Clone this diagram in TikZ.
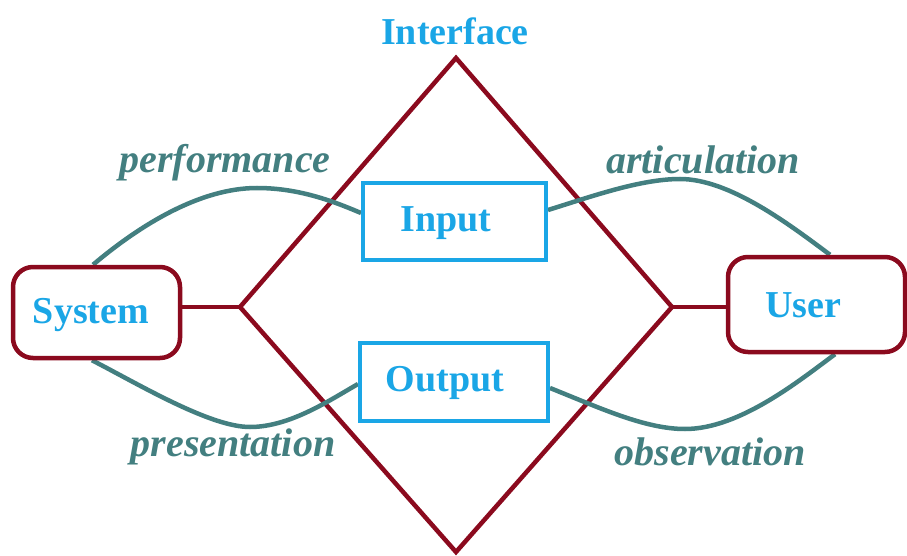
\documentclass[tikz,border=0pt]{standalone}
\usepackage{fontspec}
\setmainfont{Liberation Serif}[BoldFont={Liberation Serif Bold},ItalicFont={Liberation Serif Italic},BoldItalicFont={Liberation Serif Bold Italic}]
\definecolor{maroon}{HTML}{8B0A1E}
\definecolor{skyb}{HTML}{1AA6E6}
\definecolor{tealc}{HTML}{437F80}
\begin{document}
\begin{tikzpicture}[x=1pt,y=-1pt,
  endbox/.style={draw=maroon,line width=4.5pt,rounded corners=20pt,fill=white,inner sep=0pt},
  iobox/.style={draw=skyb,line width=4pt,fill=white,inner sep=0pt},
  boxtext/.style={text=skyb,inner sep=0pt,font=\fontsize{38}{40}\selectfont\bfseries},
  redline/.style={draw=maroon,line width=4.5pt},
  link/.style={draw=tealc,line width=4.5pt},
  lbl/.style={text=tealc,font=\fontsize{40}{42}\selectfont\bfseries\itshape}]
\useasboundingbox (0,0) rectangle (907,556);
\coordinate (dT) at (456,58);
\coordinate (dL) at (240,307);
\coordinate (dR) at (672,307);
\coordinate (dB) at (456,552);
% diamond and links to the end boxes
\draw[redline,line join=miter] (dT) -- (dR) -- (dB) -- (dL) -- cycle;
\draw[redline] (dL) -- (96.5,307);
\draw[redline] (dR) -- (816.5,307);
% box outlines (named) for anchors
\path node[iobox,draw=none,fill=none,minimum width=183pt,minimum height=76pt] (inpb) at (454.5,221.5) {}
      node[iobox,draw=none,fill=none,minimum width=188pt,minimum height=78pt] (outpb) at (454,382) {}
      node[endbox,draw=none,fill=none,minimum width=167pt,minimum height=91pt] (sysb) at (96.5,312.5) {}
      node[endbox,draw=none,fill=none,minimum width=177pt,minimum height=95pt] (usrb) at (816.5,304.5) {};
% curves
\draw[link] ([xshift=-3.5pt]sysb.north) .. controls (140,225) and (200,188) .. (257,188)
  .. controls (300,188) and (335,202) .. ([yshift=8.5pt]inpb.west);
\draw[link] ([yshift=11.5pt]inpb.east) .. controls (590,197) and (640,179) .. (680,179)
  .. controls (730,179) and (790,225) .. ([xshift=13.5pt]usrb.north);
\draw[link] ([xshift=-4.5pt]sysb.south) .. controls (140,385) and (210,427) .. (250,427)
  .. controls (290,427) and (330,400) .. ([yshift=-2pt]outpb.west);
\draw[link] ([yshift=-6pt]outpb.east) .. controls (600,408) and (645,429) .. (685,429)
  .. controls (740,429) and (800,380) .. ([xshift=18.5pt]usrb.south);
% boxes on top
\node[iobox,minimum width=183pt,minimum height=76pt] (input) at (inpb) {};
\node[iobox,minimum width=188pt,minimum height=78pt] (output) at (outpb) {};
\node[endbox,minimum width=167pt,minimum height=91pt] (system) at (sysb) {};
\node[endbox,minimum width=177pt,minimum height=95pt] (user) at (usrb) {};
\node[boxtext] (tin) at (446,223) {Input};
\node[boxtext] (tout) at (445,383) {Output};
\node[boxtext] (tsys) at (91,315) {System};
\node[boxtext] (tusr) at (803,305) {User};
\node[boxtext] (iface) at (455,31) {Interface};
\node[lbl] (perf) at (225,163) {performance};
\node[lbl] (artic) at (703,160) {articulation};
\node[lbl] (pres) at (233,447) {presentation};
\node[lbl] (obs) at (710,452) {observation};
\end{tikzpicture}
\end{document}
